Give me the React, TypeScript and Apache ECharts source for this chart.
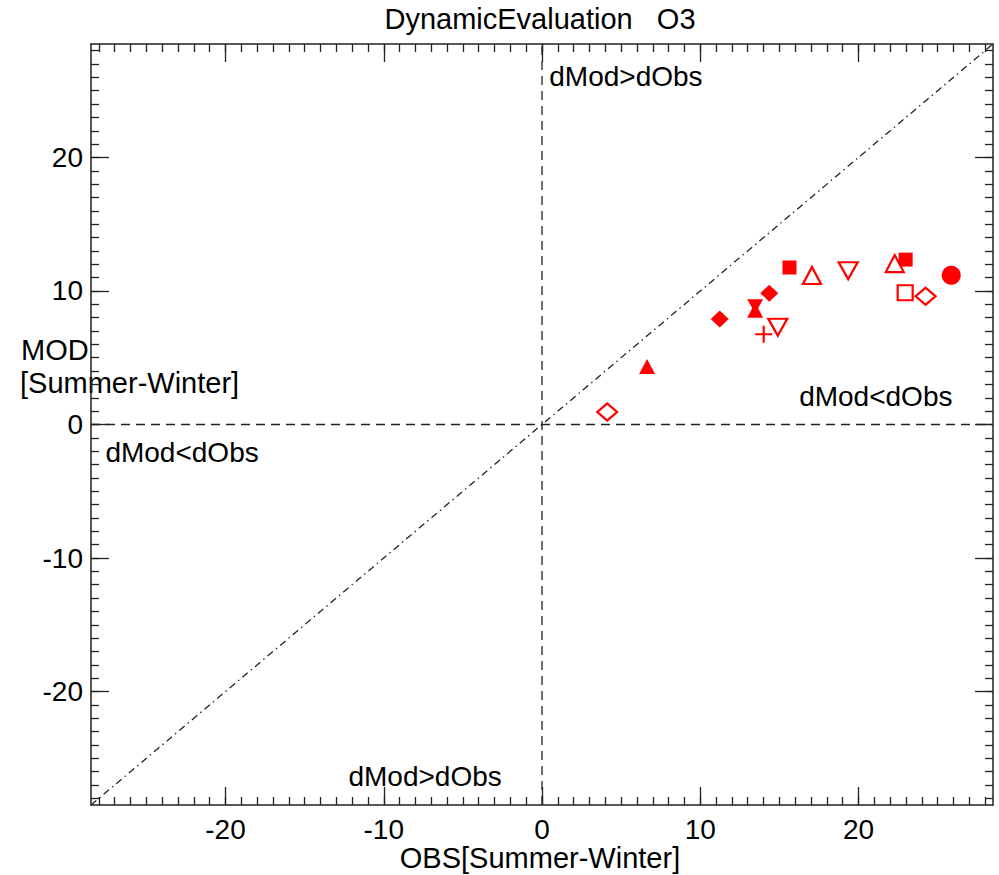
import React, { useEffect, useRef } from "react";
import * as echarts from "echarts";

const AX_MIN = -28.5;
const AX_MAX = 28.5;
const majorTicks = [-20, -10, 0, 10, 20];
const minorTicks: number[] = [];
for (let v = -28; v <= 28; v++) minorTicks.push(v);

const filledSquares = [[15.64, 11.76], [22.98, 12.35]];
const openTriUp = [[17.06, 11.16], [22.29, 12.05]];
const openTriDown = [[19.35, 11.52], [14.9, 7.29]];
const filledCircles = [[25.86, 11.18]];
const openSquares = [[22.95, 9.87]];
const openDiamonds = [[24.24, 9.61], [4.12, 0.94]];
const filledDiamonds = [[14.36, 9.84], [11.23, 7.91]];
const filledTriUp = [[6.64, 4.35], [13.47, 8.56]];
const filledTriDown = [[13.47, 8.86]];
const plusMarks = [[14.01, 6.76]];

const annotations = [
  { value: [0.46, 26.1], text: "dMod>dObs" },
  { value: [-27.59, -2.08], text: "dMod<dObs" },
  { value: [16.25, 2.11], text: "dMod<dObs" },
  { value: [-12.23, -26.37], text: "dMod>dObs" },
];

const FONT = "Liberation Sans, Arial, sans-serif";
const FS = 28;
const RED = "#ff0000";
const AXC = "#222";

function App() {
  const ref = useRef<HTMLDivElement>(null);
  useEffect(() => {
    document.body.style.margin = "0";
    if (!ref.current) return;
    const chart = echarts.init(ref.current, null, { renderer: "svg" });

    const mkAxis = (pos: string, major: boolean, labels: boolean) => ({
      type: "value",
      position: pos,
      min: AX_MIN,
      max: AX_MAX,
      axisLine: { show: major, onZero: false, lineStyle: { color: AXC, width: 1.5 } },
      axisTick: {
        show: true,
        inside: true,
        length: major ? 18 : 8,
        customValues: major ? majorTicks : minorTicks,
        lineStyle: { color: AXC, width: 1.3 },
      },
      axisLabel: labels
        ? {
            show: true,
            customValues: majorTicks,
            fontSize: FS,
            fontFamily: FONT,
            color: "#000",
            margin: pos === "left" ? 8 : 10,
          }
        : { show: false },
      splitLine: { show: false },
    });

    const open = (symbol: string, data: number[][], size: any, rotate = 0) => ({
      type: "scatter",
      xAxisIndex: 0,
      yAxisIndex: 0,
      data,
      symbol,
      symbolSize: size,
      symbolRotate: rotate,
      itemStyle: { color: "#fff", borderColor: RED, borderWidth: 2.2, opacity: 1 },
      z: 5,
    });
    const filled = (symbol: string, data: number[][], size: any, rotate = 0) => ({
      type: "scatter",
      xAxisIndex: 0,
      yAxisIndex: 0,
      data,
      symbol,
      symbolSize: size,
      symbolRotate: rotate,
      itemStyle: { color: RED, opacity: 1 },
      z: 5,
    });
    const refLine = (data: number[][], type: any) => ({
      type: "line",
      xAxisIndex: 0,
      yAxisIndex: 0,
      data,
      symbol: "none",
      silent: true,
      lineStyle: { color: "#222", width: 1.3, type },
      z: 2,
    });
    const txt = (text: string, x: number, y: number, align: string, size = FS) => ({
      type: "text",
      x,
      y,
      style: {
        text,
        font: `${size}px ${FONT}`,
        fill: "#000",
        textAlign: align,
        textVerticalAlign: "middle",
      },
    });

    chart.setOption({
      animation: false,
      backgroundColor: "#fff",
      grid: { left: 91, right: 6, top: 44, bottom: 70, containLabel: false },
      xAxis: [
        mkAxis("bottom", true, true),
        mkAxis("bottom", false, false),
        mkAxis("top", true, false),
        mkAxis("top", false, false),
      ],
      yAxis: [
        mkAxis("left", true, true),
        mkAxis("left", false, false),
        mkAxis("right", true, false),
        mkAxis("right", false, false),
      ],
      graphic: [
        txt("DynamicEvaluation   O3", 540, 19, "center", 29),
        txt("OBS[Summer-Winter]", 540, 858, "center", 29),
        txt("MOD", 21, 350, "left", 29),
        txt("[Summer-Winter]", 20, 383, "left", 29),
      ],
      series: [
        refLine([[AX_MIN, AX_MIN], [AX_MAX, AX_MAX]], [7, 4, 1.5, 4]),
        refLine([[0, AX_MIN], [0, AX_MAX]], [9, 6]),
        refLine([[AX_MIN, 0], [AX_MAX, 0]], [9, 6]),
        filled("rect", filledSquares, 14),
        open("triangle", openTriUp, [18, 17]),
        open("triangle", openTriDown, [19, 17], 180),
        filled("circle", filledCircles, 19),
        open("rect", openSquares, 15),
        open("diamond", openDiamonds, [20, 17]),
        filled("diamond", filledDiamonds, [18, 17]),
        filled("triangle", filledTriUp, [16, 15]),
        filled("triangle", filledTriDown, [16, 14], 180),
        {
          type: "scatter",
          data: plusMarks,
          symbol: "path://M0,5L10,5M5,0L5,10",
          symbolSize: 17,
          itemStyle: { color: "none", borderColor: RED, borderWidth: 2.2, opacity: 1 },
          z: 5,
        },
        {
          type: "scatter",
          data: annotations.map((a) => ({ value: a.value, name: a.text })),
          symbolSize: 0,
          silent: true,
          itemStyle: { opacity: 1 },
          label: {
            show: true,
            position: "inside",
            formatter: (p: any) => p.name,
            align: "left",
            verticalAlign: "middle",
            fontSize: FS,
            fontFamily: FONT,
            color: "#000",
          },
          z: 6,
        },
      ],
    });
    return () => chart.dispose();
  }, []);
  return <div ref={ref} style={{ width: 999, height: 875 }} />;
}

export default App;
